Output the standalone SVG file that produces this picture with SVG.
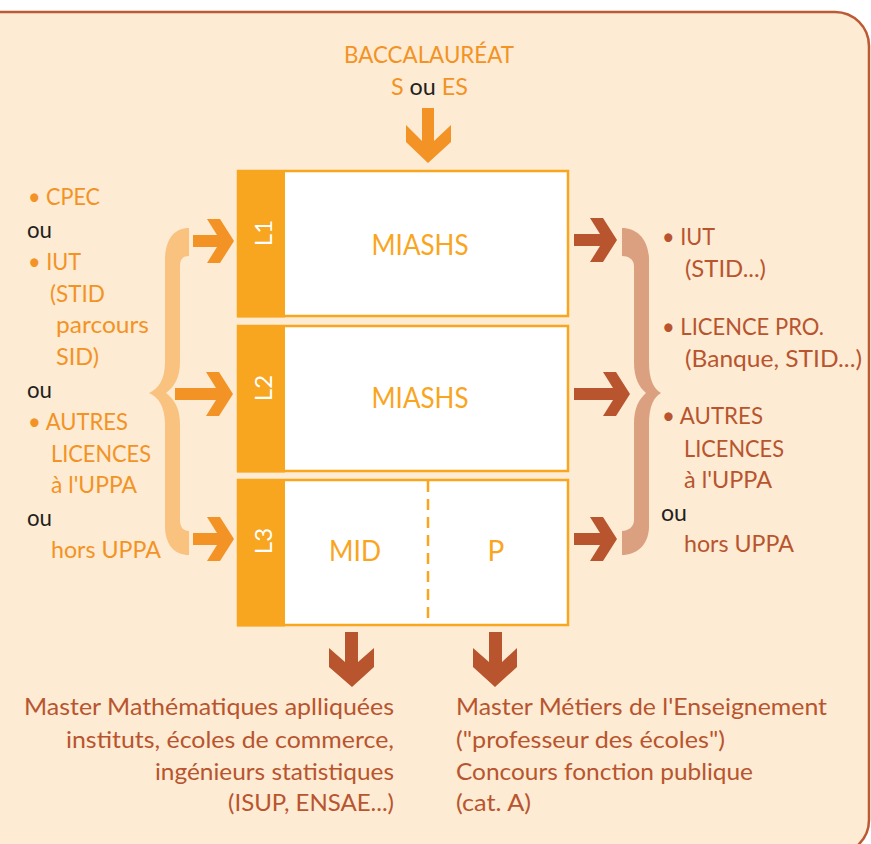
<svg xmlns="http://www.w3.org/2000/svg" width="871" height="844" viewBox="0 0 871 844">
<style>
.t{font-family:Lato,'Open Sans','Liberation Sans',sans-serif;font-size:23px}
.o{fill:#F39325}
.b{fill:#B8552F}
.k{fill:#231F20}
.box{fill:#fff;stroke:#F9A51E;stroke-width:2.5}
.side{fill:#F8A51F}
.lbl{font-family:Lato,'Open Sans','Liberation Sans',sans-serif;font-size:28px;fill:#F9A51E;text-anchor:middle}
.lv{font-family:Lato,'Open Sans','Liberation Sans',sans-serif;font-size:24px;fill:#fff;text-anchor:middle;dominant-baseline:central}
.ao{fill:#F39325}
.ab{fill:#B8552F}
</style>
<rect x="-40" y="12" width="909" height="842" rx="34" fill="#FDEBD3" stroke="#BB5A33" stroke-width="2.5"/>

<g id="bac">
<text class="t o" x="429" y="63" text-anchor="middle" textLength="170" lengthAdjust="spacingAndGlyphs">BACCALAURÉAT</text>
<text class="t o" x="391" y="95" textLength="77" lengthAdjust="spacingAndGlyphs">S <tspan class="k">ou</tspan> ES</text>
</g>

<g id="L1">
<rect class="box" x="238" y="171" width="330" height="145"/>
<rect class="side" x="237" y="170" width="48" height="147.5"/>
<text class="lv" transform="translate(262,233) rotate(-90)">L1</text>
<text class="lbl" x="420" y="255" textLength="97" lengthAdjust="spacingAndGlyphs">MIASHS</text>
</g>
<g id="L2">
<rect class="box" x="238" y="326" width="330" height="145"/>
<rect class="side" x="237" y="325" width="48" height="147.5"/>
<text class="lv" transform="translate(262,388) rotate(-90)">L2</text>
<text class="lbl" x="420" y="408" textLength="97" lengthAdjust="spacingAndGlyphs">MIASHS</text>
</g>
<g id="L3">
<rect class="box" x="238" y="480" width="330" height="145"/>
<rect class="side" x="237" y="479" width="48" height="147.5"/>
<line x1="428" y1="481" x2="428" y2="624" stroke="#F9A51E" stroke-width="2.5" stroke-dasharray="11,7"/>
<text class="lv" transform="translate(262,541) rotate(-90)">L3</text>
<text class="lbl" x="355" y="561" textLength="52" lengthAdjust="spacingAndGlyphs">MID</text>
<text class="lbl" x="496" y="561">P</text>
</g>

<g id="connectors">
<polygon class="ao" points="422,108 434,108 434,141 451,125 451,142 428,163 406,142 406,125 422,141"/>
<polygon class="ao" points="193,235 217,235 207,219 220,219 234,241 220,263 207,263 217,247 193,247"/>
<polygon class="ao" points="175,388 216,388 206,372 219,372 233,394 219,416 206,416 216,400 175,400"/>
<polygon class="ao" points="193,533 217,533 207,517 220,517 234,539 220,561 207,561 217,545 193,545"/>
<polygon class="ab" points="574,234 600,234 590,218 603,218 617,240 603,262 590,262 600,246 574,246"/>
<polygon class="ab" points="574,388 613,388 603,372 616,372 630,394 616,416 603,416 613,400 574,400"/>
<polygon class="ab" points="574,533 600,533 590,517 603,517 617,539 603,561 590,561 600,545 574,545"/>
<polygon class="ab" points="345,632 358,632 358,662 374,648 374,667 352,687 329,667 329,648 345,662"/>
<polygon class="ab" points="489,632 502,632 502,662 517,648 517,667 495,687 473,667 473,648 489,662"/>
<path fill="#F9C27E" d="M189,228 C175,228 166,238 165,258 L165,362 C165,380 158,389 149,393 C158,397 165,406 165,424 L165,528 C166,546 175,555 189,555 L189,531 C183,531 180,527 180,520 L180,424 C180,408 174,399 166,393 C174,387 180,378 180,362 L180,266 C180,259 183,256 189,256 Z"/>
<path fill="#DBA07F" d="M622,228 C636,228 648,238 649,258 L649,362 C649,380 654,389 661,393 C654,397 649,406 649,424 L649,528 C648,546 636,555 622,555 L622,531 C628,531 634,527 634,520 L634,424 C634,408 639,399 646,393 C639,387 634,378 634,362 L634,266 C634,259 628,256 622,256 Z"/>
</g>

<g id="left-text">
<text class="t o" x="28" y="205" textLength="72" lengthAdjust="spacingAndGlyphs">• CPEC</text>
<text class="t k" x="27" y="238" textLength="25" lengthAdjust="spacingAndGlyphs">ou</text>
<text class="t o" x="28" y="270" textLength="53" lengthAdjust="spacingAndGlyphs">• IUT</text>
<text class="t o" x="50" y="302" textLength="55" lengthAdjust="spacingAndGlyphs">(STID</text>
<text class="t o" x="56" y="333" textLength="93" lengthAdjust="spacingAndGlyphs">parcours</text>
<text class="t o" x="56" y="365" textLength="43" lengthAdjust="spacingAndGlyphs">SID)</text>
<text class="t k" x="27" y="398" textLength="25" lengthAdjust="spacingAndGlyphs">ou</text>
<text class="t o" x="28" y="430" textLength="100" lengthAdjust="spacingAndGlyphs">• AUTRES</text>
<text class="t o" x="51" y="462" textLength="100" lengthAdjust="spacingAndGlyphs">LICENCES</text>
<text class="t o" x="51" y="493" textLength="86" lengthAdjust="spacingAndGlyphs">à l'UPPA</text>
<text class="t k" x="27" y="526" textLength="25" lengthAdjust="spacingAndGlyphs">ou</text>
<text class="t o" x="51" y="558" textLength="110" lengthAdjust="spacingAndGlyphs">hors UPPA</text>
</g>

<g id="right-text">
<text class="t b" x="662" y="245" textLength="53" lengthAdjust="spacingAndGlyphs">• IUT</text>
<text class="t b" x="685" y="277" textLength="81" lengthAdjust="spacingAndGlyphs">(STID...)</text>
<text class="t b" x="662" y="335" textLength="162" lengthAdjust="spacingAndGlyphs">• LICENCE PRO.</text>
<text class="t b" x="685" y="367" textLength="177" lengthAdjust="spacingAndGlyphs">(Banque, STID...)</text>
<text class="t b" x="662" y="424" textLength="101" lengthAdjust="spacingAndGlyphs">• AUTRES</text>
<text class="t b" x="684" y="457" textLength="100" lengthAdjust="spacingAndGlyphs">LICENCES</text>
<text class="t b" x="684" y="488" textLength="88" lengthAdjust="spacingAndGlyphs">à l'UPPA</text>
<text class="t k" x="661" y="521" textLength="26" lengthAdjust="spacingAndGlyphs">ou</text>
<text class="t b" x="684" y="552" textLength="110" lengthAdjust="spacingAndGlyphs">hors UPPA</text>
</g>

<g id="bottom-left">
<text class="t b" x="394" y="715" text-anchor="end" textLength="370" lengthAdjust="spacingAndGlyphs">Master Mathématiques aplliquées</text>
<text class="t b" x="394" y="748" text-anchor="end" textLength="328" lengthAdjust="spacingAndGlyphs">instituts, écoles de commerce,</text>
<text class="t b" x="394" y="780" text-anchor="end" textLength="239" lengthAdjust="spacingAndGlyphs">ingénieurs statistiques</text>
<text class="t b" x="394" y="811" text-anchor="end" textLength="166" lengthAdjust="spacingAndGlyphs">(ISUP, ENSAE...)</text>
</g>
<g id="bottom-right">
<text class="t b" x="456" y="715" textLength="371" lengthAdjust="spacingAndGlyphs">Master Métiers de l'Enseignement</text>
<text class="t b" x="456" y="748" textLength="269" lengthAdjust="spacingAndGlyphs">("professeur des écoles")</text>
<text class="t b" x="456" y="780" textLength="297" lengthAdjust="spacingAndGlyphs">Concours fonction publique</text>
<text class="t b" x="456" y="811" textLength="75" lengthAdjust="spacingAndGlyphs">(cat. A)</text>
</g>
</svg>
